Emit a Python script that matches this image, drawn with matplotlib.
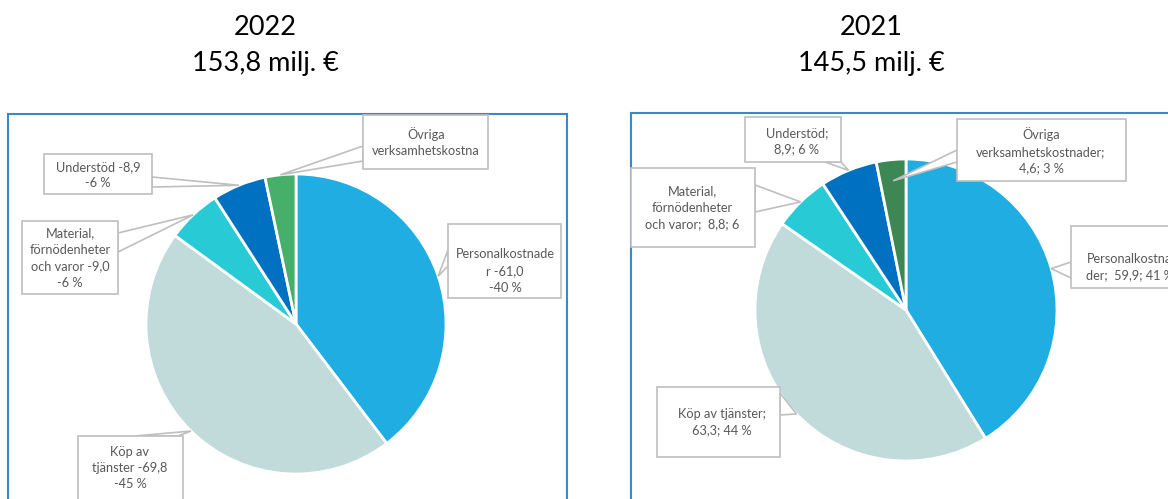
import numpy as np
import matplotlib
matplotlib.use("Agg")
import matplotlib.pyplot as plt
from matplotlib.patches import Rectangle, Polygon

plt.rcParams['font.family'] = ['Lato', 'DejaVu Sans']

# data
categories = ["Personalkostnader", "Köp av tjänster",
              "Material, förnödenheter och varor", "Understöd",
              "Övriga verksamhetskostnader"]
values_2022 = [61.0, 69.8, 9.0, 8.9, 5.1]
values_2021 = [59.9, 63.3, 8.8, 8.9, 4.6]
years = ["2022", "2021"]
totals = ["153,8 milj. €", "145,5 milj. €"]
labels_2022 = ["Personalkostnade\nr -61,0\n-40 %",
               "Köp av\ntjänster -69,8\n-45 %",
               "Material,\nförnödenheter\noch varor -9,0\n-6 %",
               "Understöd -8,9\n-6 %",
               "Övriga\nverksamhetskostna"]
labels_2021 = ["Personalkostna\nder;  59,9; 41 %",
               "Köp av tjänster;\n63,3; 44 %",
               "Material,\nförnödenheter\noch varor;  8,8; 6",
               "Understöd;\n8,9; 6 %",
               "Övriga\nverksamhetskostnader;\n4,6; 3 %"]
colors_2022 = ['#1FADE2', '#C0DBDA', '#28CBD5', '#0070C0', '#46AF69']
colors_2021 = ['#1FADE2', '#C0DBDA', '#28CBD5', '#0070C0', '#3C8753']

W, H = 1168, 499
fig = plt.figure(figsize=(W / 100, H / 100), dpi=100)
ax = fig.add_axes([0, 0, 1, 1])


def Y(y):
    # top-based pixel -> data y
    return H - y


# layout in pixels (top-based): box, base points of callout, text pos
layout_2022 = {
    'center': (296, 324), 'r': 150, 'title_x': 265, 'frame': (8, 114, 567, 520),
    'boxes': [(448, 224, 561, 298), (78, 436, 183, 520), (22, 221, 118, 294),
              (44, 154, 152, 194), (363, 115, 488, 169)],
    'bases': [((448, 250), (448, 266)), ((135, 436), (178, 436)),
              ((118, 233), (118, 252)), ((152, 177), (152, 187)),
              ((363, 146), (363, 161))],
    'texts': [(505, 271), (130, 468), (70, 258), (98, 175), (426, 142)],
    'tipr': [1, 1, 1, 1, 1],
}
layout_2021 = {
    'center': (906, 310), 'r': 151, 'title_x': 871, 'frame': (631, 113, 1200, 520),
    'boxes': [(1071, 226, 1200, 288), (657, 387, 780, 457), (631, 168, 755, 247),
              (745, 117, 841, 162), (957, 119, 1126, 181)],
    'bases': [((1071, 262), (1071, 278)), ((780, 393), (780, 415)),
              ((755, 185), (755, 212)), ((825, 162), (841, 162)),
              ((957, 150), (957, 162))],
    'texts': [(1130, 267), (722, 422), (692, 208), (797, 141), (1041, 151)],
    'tipr': [1, 1, 1, 1, 0.86],
}

for vals, cols, labels, lay, year, total in [
        (values_2022, colors_2022, labels_2022, layout_2022, years[0], totals[0]),
        (values_2021, colors_2021, labels_2021, layout_2021, years[1], totals[1])]:
    cx, cy = lay['center']
    r = lay['r']
    fx0, fy0, fx1, fy1 = lay['frame']
    ax.add_patch(Rectangle((fx0, Y(fy1)), fx1 - fx0, fy1 - fy0, facecolor='white',
                           edgecolor='#3C87C8', lw=1.5, zorder=0))
    wedges, _ = ax.pie(vals, colors=cols, startangle=90, counterclock=False,
                       center=(cx, Y(cy)), radius=r,
                       wedgeprops=dict(edgecolor='white', linewidth=2))
    for w in wedges:
        w.set_zorder(1)
    for i, w in enumerate(wedges):
        mid = np.deg2rad((w.theta1 + w.theta2) / 2)
        tr = r * lay['tipr'][i]
        tip = (cx + tr * np.cos(mid), Y(cy) + tr * np.sin(mid))
        (b1x, b1y), (b2x, b2y) = lay['bases'][i]
        ax.add_patch(Polygon([(b1x, Y(b1y)), tip, (b2x, Y(b2y))], closed=True,
                             facecolor='white', edgecolor='#BFBFBF', lw=1.2, zorder=2))
        x0, y0, x1, y1 = lay['boxes'][i]
        ax.add_patch(Rectangle((x0, Y(y1)), x1 - x0, y1 - y0, facecolor='white',
                               edgecolor='#BFBFBF', lw=1.2, zorder=3))
        tx, ty = lay['texts'][i]
        ax.text(tx, Y(ty), labels[i], ha='center', va='center', fontsize=9.2,
                color='#595959', linespacing=1.45, zorder=4)
    ax.text(lay['title_x'], Y(27), year, ha='center', va='center', fontsize=19.5,
            color='black')
    ax.text(lay['title_x'], Y(63), total, ha='center', va='center', fontsize=19.5,
            color='black')

ax.set_xlim(0, W)
ax.set_ylim(0, H)
ax.set_aspect('auto')
ax.axis('off')

fig.savefig('out.png', dpi=100)
